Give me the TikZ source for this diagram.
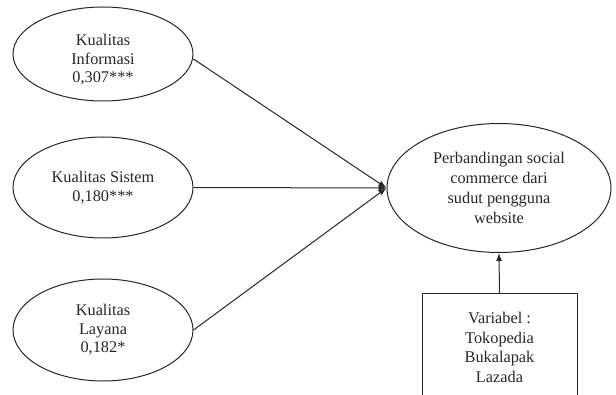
\documentclass[tikz,border=0pt]{standalone}
\usepackage{fontspec}
\setmainfont{Liberation Serif}
\usetikzlibrary{arrows.meta,shapes.geometric}
\tikzset{
  oval/.style={draw=black!85, line width=1pt, ellipse, inner sep=0pt},
  txt/.style={align=center, font=\fontsize{16.3}{18.5}\selectfont, text=black!85, inner sep=0pt},
  conn/.style={draw=black!85, line width=1pt, -{Latex[length=8pt,width=6pt]}},
  varbox/.style={draw=black!85, line width=1pt, rectangle, minimum width=155pt, minimum height=108pt, align=center, font=\fontsize{16.3}{19.5}\selectfont, text=black!85, inner sep=0pt}
}
\begin{document}
\begin{tikzpicture}[x=1pt,y=-1pt]
\useasboundingbox (0,0) rectangle (616,395);
\clip (0,0) rectangle (616,395);
\node[oval, minimum width=180pt, minimum height=94pt] (e1) at (103,54) {};
\node[txt] (t1) at (103,60) {Kualitas\\Informasi\\0,307***};
\node[oval, minimum width=180pt, minimum height=101pt, txt] (e2) at (103,187.5) {Kualitas Sistem\\0,180***};
\node[oval, minimum width=180pt, minimum height=102pt, txt] (e3) at (103,330) {Kualitas\\Layana\\0,182*};
\node[oval, minimum width=224pt, minimum height=129pt, txt, font=\fontsize{16.3}{20}\selectfont] (y) at (499,188) {Perbandingan social\\commerce dari\\sudut pengguna\\website};
\node[varbox] (v) at (499.5,347.5) {Variabel :\\Tokopedia\\Bukalapak\\Lazada};
\draw[conn] (e1.east) ++(0,5) coordinate (s1) (s1) -- (y.west);
\draw[conn] (e2.east) -- (y.west);
\draw[conn] (e3.east) -- (y.west);
\draw[conn] (v.north) -- (y.south);
\end{tikzpicture}
\end{document}
